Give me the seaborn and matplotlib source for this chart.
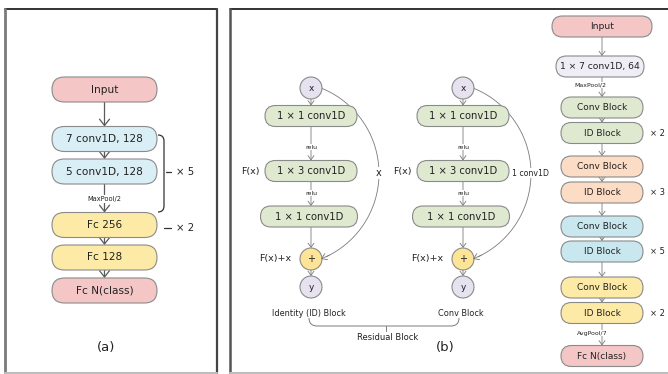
import numpy as np
import matplotlib
matplotlib.use("Agg")
import matplotlib.pyplot as plt
import seaborn as sns
from matplotlib.patches import FancyBboxPatch, Circle, PathPatch
from matplotlib.path import Path

# ---- content -------------------------------------------------------------
cnn_layers = ["Input", "7 conv1D, 128", "5 conv1D, 128", "Fc 256", "Fc 128", "Fc N(class)"]
cnn_kinds = ["io", "conv", "conv", "fc", "fc", "io"]
cnn_conv_repeat = 5
cnn_fc_repeat = 2
cnn_pool = "MaxPool/2"

res_layers = ["1 × 1 conv1D", "1 × 3 conv1D", "1 × 1 conv1D"]
res_activation = "relu"
res_block_names = ["Identity (ID) Block", "Conv Block"]
res_shortcuts = ["x", "1 conv1D"]
res_group_name = "Residual Block"

resnet_stem = ["Input", "1 × 7 conv1D, 64"]
resnet_stage_blocks = ["Conv Block", "ID Block"]
resnet_stage_repeats = [2, 3, 5, 2]
resnet_head = "Fc N(class)"
resnet_pools = ["MaxPool/2", "AvgPool/7"]
panel_tags = ["(a)", "(b)"]

# ---- style ---------------------------------------------------------------
sns.set_theme(style="white")
plt.rcParams["font.family"] = ["DejaVu Sans"]

PINK = "#f4c7c6"
BLUE_A = "#d9eef5"
YELLOW = "#fdeaa6"
GREEN = "#dfe9d0"
LAVENDER = "#e6e2ef"
PLUS = "#fde497"
stage_colors = ["#dfe9d0", "#fddcc5", "#c8e7ee", "#fdeaa6"]
EDGE = "#8a8a8a"
LINE = "#7a7a7a"
TXT = "#222222"

fig = plt.figure(figsize=(6.68, 3.74), dpi=100)
ax = fig.add_axes([0, 0, 1, 1])
ax.set_xlim(0, 668)
ax.set_ylim(374, 0)
ax.axis("off")


def pill(cx, cy, w, h, fc, text, fs, ec=EDGE, lw=0.8):
    ax.add_patch(FancyBboxPatch((cx - w / 2, cy - h / 2), w, h,
                                boxstyle=f"round,pad=0,rounding_size={h / 2}",
                                fc=fc, ec=ec, lw=lw, zorder=3))
    ax.text(cx, cy, text, ha="center", va="center", fontsize=fs, color=TXT, zorder=4)


def arrow(x, y0, y1, color=LINE, lw=0.8, hl=0.35, hw=0.3):
    ax.annotate("", xy=(x, y1), xytext=(x, y0),
                arrowprops=dict(arrowstyle=f"->,head_length={hl},head_width={hw}",
                                color=color, lw=lw, shrinkA=0, shrinkB=0), zorder=2)


def tag(x, y, text, fs):
    ax.text(x, y, text, ha="center", va="center", fontsize=fs, color=TXT, zorder=5,
            bbox=dict(fc="white", ec="none", pad=0.6))


# ---- panel frames ----------------------------------------------------------
ax.plot([4.5, 217], [8.5, 8.5], color="#111111", lw=1.2)
ax.plot([5, 5], [8.5, 373], color="#7a7a7a", lw=2.0)
ax.plot([217, 217], [8.5, 373], color="#444444", lw=1.6)
ax.plot([4.5, 217], [373, 373], color="#bdbdbd", lw=1.5)

ax.plot([229.5, 668], [8.5, 8.5], color="#111111", lw=1.2)
ax.plot([230, 230], [8.5, 373], color="#555555", lw=1.8)
ax.plot([229.5, 668], [373, 373], color="#bdbdbd", lw=1.5)

# ---- (a) plain 1D CNN ------------------------------------------------------
a_cx, a_w, a_h = 104.5, 105, 25
a_rows = [89.5, 139, 171.5, 225, 257.5, 290.5]
a_fill = {"io": PINK, "conv": BLUE_A, "fc": YELLOW}
for lab, kind, cy in zip(cnn_layers, cnn_kinds, a_rows):
    pill(a_cx, cy, a_w, a_h, a_fill[kind], lab, 7.6)
for y_top, y_bot in zip(a_rows[:-1], a_rows[1:]):
    arrow(a_cx, y_top + a_h / 2, y_bot - a_h / 2, color="#5a5a5a", lw=0.9, hl=0.38, hw=0.3)
tag(a_cx, 199, cnn_pool, 4.8)

brace = Path([(158, 135), (164, 135), (164, 141), (164, 206), (164, 212), (158, 212)],
             [Path.MOVETO, Path.CURVE3, Path.CURVE3, Path.LINETO, Path.CURVE3, Path.CURVE3])
ax.add_patch(PathPatch(brace, fc="none", ec="#333333", lw=0.9))
ax.plot([166, 171], [172, 172], color="#333333", lw=0.9)
ax.text(176, 172, f"× {cnn_conv_repeat}", ha="left", va="center", fontsize=7.3, color=TXT)
ax.plot([164, 171], [228, 228], color="#333333", lw=0.9)
ax.text(176, 228, f"× {cnn_fc_repeat}", ha="left", va="center", fontsize=7.3, color=TXT)
ax.text(106, 348, panel_tags[0], ha="center", va="center", fontsize=9.5, color=TXT)

# ---- (b) residual blocks ---------------------------------------------------
b_rows = [116, 171, 216.5]
b_widths = [92, 92, 97]
b_h = 21
r_circ = 11
for k, (cx, name, short) in enumerate(zip([311, 463], res_block_names, res_shortcuts)):
    ax.add_patch(Circle((cx, 88), r_circ, fc=LAVENDER, ec=EDGE, lw=0.8, zorder=3))
    ax.text(cx, 88, "x", ha="center", va="center", fontsize=6.5, color=TXT, zorder=4)
    for lab, cy, w in zip(res_layers, b_rows, b_widths):
        pill(cx - (2 if w > 92 else 0), cy, w, b_h, GREEN, lab, 7.2)
    arrow(cx, 88 + r_circ, b_rows[0] - b_h / 2, hl=0.25, hw=0.18, lw=0.6)
    arrow(cx, b_rows[0] + b_h / 2, b_rows[1] - b_h / 2, hl=0.25, hw=0.18, lw=0.6)
    arrow(cx, b_rows[1] + b_h / 2, b_rows[2] - b_h / 2, hl=0.25, hw=0.18, lw=0.6)
    tag(cx, 147, res_activation, 4.5)
    tag(cx, 193, res_activation, 4.5)
    ax.add_patch(Circle((cx, 259), r_circ, fc=PLUS, ec=EDGE, lw=0.8, zorder=3))
    ax.text(cx, 259, "+", ha="center", va="center", fontsize=7, color=TXT, zorder=4)
    arrow(cx, b_rows[2] + b_h / 2, 259 - r_circ, hl=0.25, hw=0.18, lw=0.6)
    ax.add_patch(Circle((cx, 287), r_circ, fc=LAVENDER, ec=EDGE, lw=0.8, zorder=3))
    ax.text(cx, 287, "y", ha="center", va="center", fontsize=6.5, color=TXT, zorder=4)
    arrow(cx, 259 + r_circ, 287 - r_circ, hl=0.25, hw=0.18, lw=0.6)
    ax.text(cx - 61, 171, "F(x)", ha="center", va="center", fontsize=6.8, color=TXT)
    ax.text(cx - 36, 259, "F(x)+x", ha="center", va="center", fontsize=6.8, color=TXT)
    ax.text(cx - 2, 313, name, ha="center", va="center", fontsize=5.9, color=TXT)

    # shortcut arc from x to the adder
    ccx, ccy, rad = cx - 24, 173.5, 92
    t0 = np.arctan2(88 - ccy, (cx + 10) - ccx)
    t1 = np.arctan2(259 - ccy, (cx + 10) - ccx)
    tt = np.linspace(t0, t1, 120)
    xs, ys = ccx + rad * np.cos(tt), ccy + rad * np.sin(tt)
    ax.plot(xs[:-3], ys[:-3], color=LINE, lw=0.6, zorder=2)
    ax.annotate("", xy=(xs[-1], ys[-1]), xytext=(xs[-6], ys[-6]),
                arrowprops=dict(arrowstyle="->,head_length=0.3,head_width=0.2",
                                color=LINE, lw=0.6, shrinkA=0, shrinkB=0))
    fs_short = 7 if k == 0 else 5.6
    tag(ccx + rad, 173, short, fs_short)

res_brace = Path([(309, 318), (309, 326), (317, 326), (451, 326), (459, 326), (459, 318)],
                 [Path.MOVETO, Path.CURVE3, Path.CURVE3, Path.LINETO, Path.CURVE3, Path.CURVE3])
ax.add_patch(PathPatch(res_brace, fc="none", ec=LINE, lw=0.7))
ax.plot([386, 386], [326, 331], color=LINE, lw=0.7)
ax.text(388, 337.5, res_group_name, ha="center", va="center", fontsize=6.0, color=TXT)
ax.text(445, 347, panel_tags[1], ha="center", va="center", fontsize=9.5, color=TXT)

# ---- (b) ResNet stack ------------------------------------------------------
rc, rw, rh = 602, 82, 21
pill(rc, 26.5, 100, rh, PINK, resnet_stem[0], 6.6)
pill(600, 66.5, 88, rh, "#efedf5", resnet_stem[1], 6.6)
stage_rows = [(107.5, 133), (166.5, 192.5), (226.5, 251.5), (287.5, 313)]
for color, (yc, yi), rep in zip(stage_colors, stage_rows, resnet_stage_repeats):
    pill(rc, yc, rw, rh, color, resnet_stage_blocks[0], 6.5)
    pill(rc, yi, rw, rh, color, resnet_stage_blocks[1], 6.5)
    ax.text(650, yi, f"× {rep}", ha="left", va="center", fontsize=6.0, color=TXT)
pill(rc, 356, rw, rh, PINK, resnet_head, 6.5)

r_rows = [26.5, 66.5] + [y for pair in stage_rows for y in pair] + [356]
for y_top, y_bot in zip(r_rows[:-1], r_rows[1:]):
    arrow(rc, y_top + rh / 2, y_bot - rh / 2, hl=0.25, hw=0.18, lw=0.6)
tag(590, 85, resnet_pools[0], 4.5)
tag(592, 333, resnet_pools[1], 4.5)

fig.savefig("out.png", dpi=100, facecolor="white")
